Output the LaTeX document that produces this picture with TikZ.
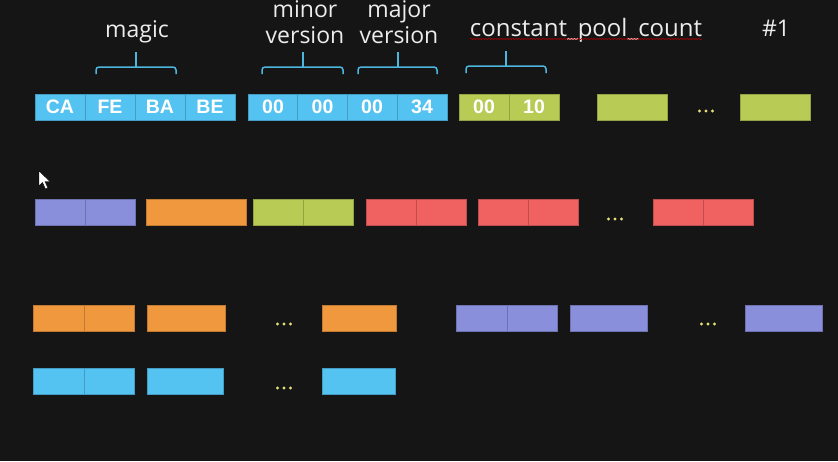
\documentclass[tikz,border=0pt]{standalone}
\usepackage{fontspec}
\setmainfont{Open Sans}
\newfontfamily\cellfont{Liberation Sans}
\usetikzlibrary{decorations.pathmorphing}
\definecolor{bg}{HTML}{151515}
\definecolor{cblue}{HTML}{55C3F2}
\definecolor{cgreen}{HTML}{B7CB55}
\definecolor{cpurple}{HTML}{8A8FDC}
\definecolor{corange}{HTML}{F0983E}
\definecolor{cred}{HTML}{F06262}
\definecolor{brace}{HTML}{4DB6DE}
\definecolor{dotc}{HTML}{E6E07A}
\definecolor{lbl}{HTML}{ECECEC}
\tikzset{
  cell/.style={draw=#1!80!black, fill=#1, line width=0.8pt, inner sep=0pt,
    minimum height=26pt, text=white, font=\cellfont\bfseries\fontsize{19.5}{22}\selectfont},
  lab/.style={text=lbl, font=\fontsize{23}{27}\selectfont, inner sep=0pt, anchor=base},
  brc/.style={draw=brace, line width=1.5pt, rounded corners=3pt},
  dot/.style={fill=dotc, draw=none, circle, inner sep=0pt, minimum size=3.4pt}
}
\newcommand{\dotsat}[3]{%
  \node[dot] (#1a) at (#2-6.5,#3) {};
  \node[dot] (#1b) at (#2,#3) {};
  \node[dot] (#1c) at (#2+6.5,#3) {};}
\begin{document}
\begin{tikzpicture}[x=1pt,y=-1pt]
\fill[bg] (0,0) rectangle (838,461);
\useasboundingbox (0,0) rectangle (838,461);
% ---------- row 1
\node[cell=cblue, minimum width=50pt] (ca) at (60,107) {CA};
\node[cell=cblue, minimum width=50pt] (fe) at (110,107) {FE};
\node[cell=cblue, minimum width=50pt] (ba) at (160,107) {BA};
\node[cell=cblue, minimum width=50pt] (be) at (210,107) {BE};
\node[cell=cblue, minimum width=50pt] (m1) at (273,107) {00};
\node[cell=cblue, minimum width=50pt] (m2) at (322.5,107) {00};
\node[cell=cblue, minimum width=50pt] (j1) at (372,107) {00};
\node[cell=cblue, minimum width=50pt] (j2) at (422,107) {34};
\node[cell=cgreen, minimum width=50pt] (cp1) at (484,107) {00};
\node[cell=cgreen, minimum width=50pt] (cp2) at (534,107) {10};
\node[cell=cgreen, minimum width=70pt] (g1) at (632,107) {};
\dotsat{d1}{706}{111}
\node[cell=cgreen, minimum width=70pt] (g2) at (775,107) {};
% braces
\draw[brc] (96,74) -- (96,67) -- (176,67) -- (176,74);
\draw[brace, line width=1.5pt] (136,67) -- (136,52);
\draw[brc] (262,74) -- (262,67) -- (343,67) -- (343,74);
\draw[brace, line width=1.5pt] (303,67) -- (303,52);
\draw[brc] (358,74) -- (358,67) -- (437,67) -- (437,74);
\draw[brace, line width=1.5pt] (398,67) -- (398,52);
\draw[brc] (466,73) -- (466,66) -- (546,66) -- (546,73);
\draw[brace, line width=1.5pt] (506,66) -- (506,51);
% labels
\node[lab] (lmagic) at (137,37) {magic};
\node[lab] (lminor) at (305,17) {minor};
\node[lab] (lminorv) at (305,43) {version};
\node[lab] (lmajor) at (399,17) {major};
\node[lab] (lmajorv) at (399,43) {version};
\node[lab, font=\fontsize{24}{28}\selectfont] (lcp) at (586,36) {constant\_pool\_count};
\node[lab] (lnum) at (776,36) {\#1};
\draw[red!70!black, line width=0.6pt, decorate,
  decoration={snake, amplitude=0.6pt, segment length=3pt}] (470,39) -- (702,39);
% ---------- row 2
\node[cell=cpurple, minimum width=50pt] (p1) at (60,212.5) {};
\node[cell=cpurple, minimum width=50pt] (p2) at (110,212.5) {};
\node[cell=corange, minimum width=100pt] (o1) at (196,212.5) {};
\node[cell=cgreen, minimum width=50pt] (gr1) at (278,212.5) {};
\node[cell=cgreen, minimum width=50pt] (gr2) at (328,212.5) {};
\node[cell=cred, minimum width=50pt] (r1) at (391,212.5) {};
\node[cell=cred, minimum width=50pt] (r2) at (441,212.5) {};
\node[cell=cred, minimum width=50pt] (r3) at (503,212.5) {};
\node[cell=cred, minimum width=50pt] (r4) at (553,212.5) {};
\dotsat{d2}{615}{219}
\node[cell=cred, minimum width=50pt] (r5) at (678,212.5) {};
\node[cell=cred, minimum width=50pt] (r6) at (728,212.5) {};
% ---------- row 3
\node[cell=corange, minimum width=51pt] (oa1) at (58.5,318.5) {};
\node[cell=corange, minimum width=50pt] (oa2) at (109,318.5) {};
\node[cell=corange, minimum width=78pt] (ob) at (186,318.5) {};
\dotsat{d3}{284}{324}
\node[cell=corange, minimum width=74pt] (oc) at (359,318.5) {};
\node[cell=cpurple, minimum width=51pt] (pa1) at (481.5,318.5) {};
\node[cell=cpurple, minimum width=50pt] (pa2) at (532,318.5) {};
\node[cell=cpurple, minimum width=77pt] (pb) at (608.5,318.5) {};
\dotsat{d4}{708}{324}
\node[cell=cpurple, minimum width=77pt] (pc) at (783.5,318.5) {};
% ---------- row 4
\node[cell=cblue, minimum width=51pt] (ba1) at (58.5,381.5) {};
\node[cell=cblue, minimum width=50pt] (ba2) at (109,381.5) {};
\node[cell=cblue, minimum width=76pt] (bb) at (185,381.5) {};
\dotsat{d5}{284}{388}
\node[cell=cblue, minimum width=73pt] (bc) at (358.5,381.5) {};
% cursor
\fill[white, draw=black, line width=0.4pt] (39,171) -- (39,186) -- (42.5,182.5) -- (45.5,189) -- (47.8,188) -- (45,181.5) -- (50,181.5) -- cycle;
\end{tikzpicture}
\end{document}
